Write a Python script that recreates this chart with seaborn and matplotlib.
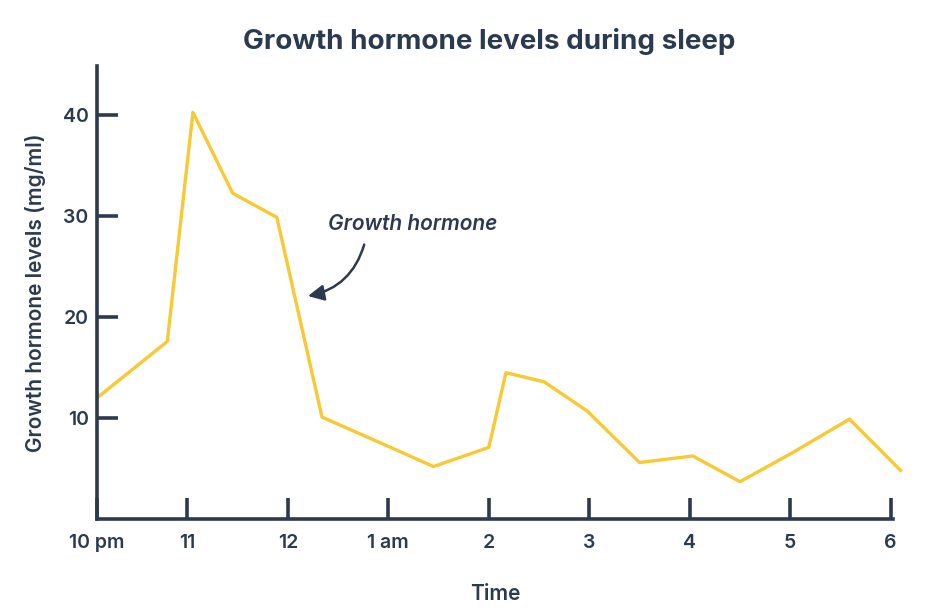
import matplotlib
matplotlib.use("Agg")
from matplotlib import pyplot as plt
import pandas as pd
import seaborn as sns

# hours after 10 pm
hours = [0.0, 0.70, 0.955, 1.35, 1.79, 2.24, 2.9, 3.35, 3.9, 4.07, 4.45,
         4.88, 5.40, 5.93, 6.40, 6.91, 7.49, 8.0]
levels = [12.0, 17.6, 40.3, 32.3, 29.9, 10.1, 7.2, 5.2, 7.1, 14.5, 13.6,
          10.7, 5.6, 6.25, 3.7, 6.5, 9.9, 4.8]

tick_pos = [0, 0.9, 1.9, 2.9, 3.9, 4.9, 5.9, 6.9, 7.9]
tick_labels = ["10 pm", "11", "12", "1 am", "2", "3", "4", "5", "6"]
y_ticks = [10, 20, 30, 40]

dark = "#2b3a4e"
yellow = "#f8c932"

sns.set_theme(style="white")
plt.rcParams["font.family"] = ["Inter", "DejaVu Sans"]

df = pd.DataFrame({"hours": hours, "level": levels})

fig = plt.figure(figsize=(9.27, 6.14), dpi=100)
ax = fig.add_axes([0.1046, 0.1547, 0.8584, 0.7378])

sns.lineplot(data=df, x="hours", y="level", ax=ax, color=yellow,
             linewidth=2.4, clip_on=False)

ax.set_xlim(0, 7.92)
ax.set_ylim(0, 44.9)

for side in ["top", "right"]:
    ax.spines[side].set_visible(False)
for side in ["left", "bottom"]:
    ax.spines[side].set_color(dark)
    ax.spines[side].set_linewidth(2.6)

ax.set_xticks(tick_pos)
ax.set_xticklabels(tick_labels)
ax.set_yticks(y_ticks)
ax.tick_params(axis="both", direction="in", length=15, width=2.6,
               color=dark, labelcolor=dark, labelsize=14,
               bottom=True, left=True)
ax.tick_params(axis="x", pad=11)
ax.tick_params(axis="y", pad=6)
for lbl in ax.get_xticklabels() + ax.get_yticklabels():
    lbl.set_fontweight("semibold")

ax.set_xlabel("Time", fontsize=15, color=dark, fontweight="semibold",
              labelpad=23)
ax.set_ylabel("Growth hormone levels (mg/ml)", fontsize=15, color=dark,
              fontweight="semibold", labelpad=12)

fig.text(0.528, 0.932, "Growth hormone levels during sleep", ha="center",
         va="center", fontsize=20, fontweight="bold", color=dark)

ax.text(3.14, 29.2, "Growth hormone", ha="center", va="center",
        fontsize=15, fontstyle="italic", fontweight="semibold", color=dark)
ax.annotate("", xy=(2.1, 22.1), xytext=(2.66, 27.2),
            arrowprops=dict(arrowstyle="-|>,head_length=0.8,head_width=0.4",
                            color=dark, lw=1.8, shrinkA=0, shrinkB=0,
                            connectionstyle="arc3,rad=-0.3"))

fig.savefig("out.png", dpi=100)
